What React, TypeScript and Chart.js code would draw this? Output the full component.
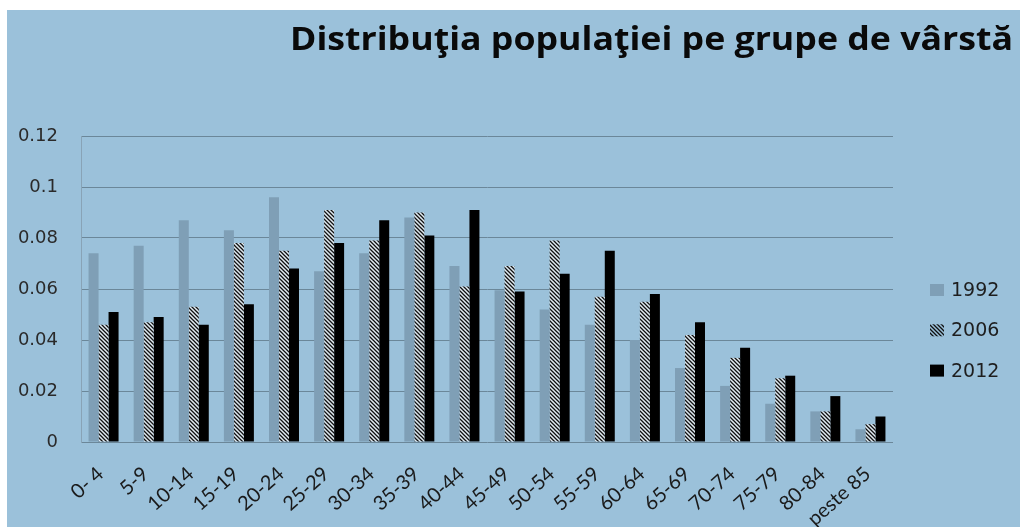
import React, { useEffect, useRef } from "react";
import { Chart, registerables } from "chart.js";

Chart.register(...registerables);

const chartTitle = "Distribuţia populaţiei pe grupe de vârstă";
const categories = [
  "0- 4", "5-9", "10-14", "15-19", "20-24", "25-29", "30-34", "35-39", "40-44",
  "45-49", "50-54", "55-59", "60-64", "65-69", "70-74", "75-79", "80-84", "peste 85",
];
const seriesLabels = ["1992", "2006", "2012"];
const values1992 = [0.074, 0.077, 0.087, 0.083, 0.096, 0.067, 0.074, 0.088, 0.069, 0.0595, 0.052, 0.046, 0.040, 0.029, 0.022, 0.015, 0.012, 0.005];
const values2006 = [0.046, 0.047, 0.053, 0.078, 0.075, 0.091, 0.079, 0.090, 0.061, 0.069, 0.079, 0.057, 0.055, 0.042, 0.033, 0.025, 0.012, 0.007];
const values2012 = [0.051, 0.049, 0.046, 0.054, 0.068, 0.078, 0.087, 0.081, 0.091, 0.059, 0.066, 0.075, 0.058, 0.047, 0.037, 0.026, 0.018, 0.010];
const yMin = 0;
const yMax = 0.12;
const yStep = 0.02;

const BG = "#9bc1da";
const C1992 = "#7f9fb6";
const C2012 = "#000000";

function makeHatch(ctx: CanvasRenderingContext2D, bg: string | null) {
  const s = 4;
  const c = document.createElement("canvas");
  c.width = s;
  c.height = s;
  const g = c.getContext("2d")!;
  if (bg) {
    g.fillStyle = bg;
    g.fillRect(0, 0, s, s);
  }
  g.strokeStyle = "#111111";
  g.lineWidth = 1.3;
  g.beginPath();
  g.moveTo(-1, -1);
  g.lineTo(s + 1, s + 1);
  g.moveTo(-1, s - 1);
  g.lineTo(1, s + 1);
  g.moveTo(s - 1, -1);
  g.lineTo(s + 1, 1);
  g.stroke();
  return ctx.createPattern(c, "repeat")!;
}

export default function App() {
  const ref = useRef<HTMLCanvasElement | null>(null);

  useEffect(() => {
    const canvas = ref.current!;
    const ctx = canvas.getContext("2d")!;
    const hatchBar = makeHatch(ctx, "#e2ecf3");
    const hatchLegend = makeHatch(ctx, null);

    const titlePlugin = {
      id: "customTitle",
      afterDraw(chart: any) {
        const c = chart.ctx as CanvasRenderingContext2D;
        c.save();
        c.font = 'bold 32px "Open Sans"';
        c.fillStyle = "#0a0a0a";
        c.textBaseline = "alphabetic";
        const w = c.measureText(chartTitle).width;
        const sx = 723 / w;
        c.translate(283, 39.5);
        c.scale(sx, 1);
        c.fillText(chartTitle, 0, 0);
        c.restore();
      },
    };

    const legendPlugin = {
      id: "customLegend",
      afterDraw(chart: any) {
        const c = chart.ctx as CanvasRenderingContext2D;
        const area = chart.chartArea;
        const x0 = area.right + 37;
        const yStart = area.top + 154;
        c.save();
        c.font = '19px "DejaVu Sans"';
        c.textBaseline = "middle";
        chart.data.datasets.forEach((ds: any, i: number) => {
          const yc = yStart + i * 40.3;
          c.fillStyle = i === 1 ? hatchLegend : ds.backgroundColor;
          c.fillRect(x0, yc - 6, 14, 12);
          c.fillStyle = "#1e1e1e";
          c.fillText(ds.label, x0 + 21, yc + 1);
        });
        c.restore();
      },
    };

    const chart = new Chart(canvas, {
      type: "bar",
      data: {
        labels: categories,
        datasets: [
          { label: seriesLabels[0], data: values1992, backgroundColor: C1992 },
          { label: seriesLabels[1], data: values2006, backgroundColor: hatchBar as any },
          { label: seriesLabels[2], data: values2012, backgroundColor: C2012 },
        ],
      },
      options: {
        responsive: false,
        animation: false,
        datasets: { bar: { barPercentage: 1, categoryPercentage: 0.665, borderWidth: 0 } },
        layout: { padding: { top: 126, right: 127, left: 0, bottom: 0 } },
        plugins: {
          legend: { display: false },
          title: { display: false },
          tooltip: { enabled: false },
        },
        scales: {
          x: {
            grid: { display: false },
            border: { display: false },
            ticks: {
              autoSkip: false,
              maxRotation: 42,
              minRotation: 42,
              padding: 12,
              labelOffset: -3,
              color: "#1a1a1a",
              font: { family: "Lato", size: 20 },
            },
            afterFit: (s: any) => {
              s.height = 85;
            },
          },
          y: {
            min: yMin,
            max: yMax,
            ticks: {
              stepSize: yStep,
              padding: 23,
              color: "#2a2a2a",
              font: { family: "DejaVu Sans", size: 18 },
              callback: (v: any) => String(Number(Number(v).toFixed(2))),
            },
            grid: { color: "#6b8799", lineWidth: 1, drawTicks: false },
            border: { display: true, color: "#88a3b6", width: 1 },
            afterFit: (s: any) => {
              s.width = 74;
            },
          },
        },
      },
      plugins: [titlePlugin, legendPlugin],
    });
    return () => chart.destroy();
  }, []);

  return (
    <div
      style={{
        position: "absolute",
        left: 7,
        top: 10,
        width: 1013,
        height: 517,
        background: BG,
      }}
    >
      <canvas ref={ref} width={1013} height={517} style={{ display: "block" }} />
    </div>
  );
}
